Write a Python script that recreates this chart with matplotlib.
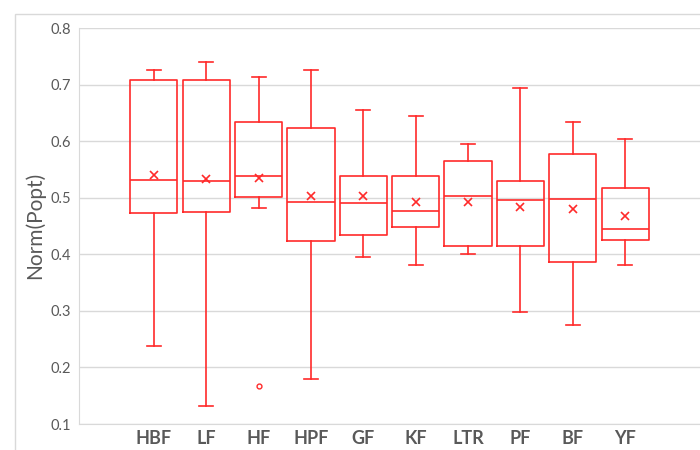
import matplotlib
matplotlib.use("Agg")
import matplotlib.pyplot as plt
from matplotlib.patches import Rectangle

categories = ["HBF", "LF", "HF", "HPF", "GF", "KF", "LTR", "PF", "BF", "YF"]
whisker_low = [0.238, 0.131, 0.482, 0.179, 0.395, 0.381, 0.400, 0.299, 0.275, 0.381]
q1 = [0.474, 0.475, 0.501, 0.424, 0.434, 0.449, 0.415, 0.415, 0.387, 0.425]
median = [0.531, 0.529, 0.539, 0.493, 0.491, 0.477, 0.504, 0.496, 0.498, 0.445]
q3 = [0.708, 0.709, 0.635, 0.624, 0.539, 0.539, 0.565, 0.529, 0.577, 0.517]
whisker_high = [0.727, 0.740, 0.713, 0.726, 0.656, 0.644, 0.596, 0.694, 0.634, 0.604]
means = [0.540, 0.534, 0.536, 0.504, 0.503, 0.493, 0.493, 0.483, 0.481, 0.468]
outliers = [[], [], [0.168], [], [], [], [], [], [], []]
yticks = [0.1, 0.2, 0.3, 0.4, 0.5, 0.6, 0.7, 0.8]

plt.rcParams['font.family'] = ['Lato', 'DejaVu Sans']
red = '#FF2A2A'
gray_text = '#595959'

fig = plt.figure(figsize=(7, 4.5), dpi=100)
fig.patches.append(Rectangle((15/700, -0.1), 1.2, 1 - 13.5/450 + 0.1, transform=fig.transFigure,
                             fill=False, edgecolor='#D9D9D9', linewidth=1.0))
ax = fig.add_axes([79/700, 1 - 424/450, 1 - 79/700, (424 - 28.3)/450])

stats = []
for i, c in enumerate(categories):
    stats.append(dict(label=c, whislo=whisker_low[i], q1=q1[i], med=median[i], q3=q3[i],
                      whishi=whisker_high[i], mean=means[i], fliers=outliers[i]))

ax.bxp(stats, positions=range(len(categories)), widths=0.9, showmeans=True, patch_artist=False,
       boxprops=dict(color=red, linewidth=1.2),
       medianprops=dict(color=red, linewidth=1.2),
       whiskerprops=dict(color=red, linewidth=1.2),
       capprops=dict(color=red, linewidth=1.2),
       capwidths=0.27,
       meanprops=dict(marker='x', markeredgecolor=red, markerfacecolor=red, markersize=6, markeredgewidth=1.2),
       flierprops=dict(marker='o', markeredgecolor=red, markerfacecolor='none', markersize=3.5, markeredgewidth=1.0))

ax.set_xlim(-1.43, 10.43)
ax.set_ylim(0.1, 0.8)
ax.set_yticks(yticks)
ax.set_yticklabels([f"{v:.1f}" for v in yticks], fontsize=10.5, color=gray_text)
ax.set_xticks(range(len(categories)))
ax.set_xticklabels(categories, fontsize=13, fontweight='bold', color=gray_text)
ax.tick_params(axis='both', length=0)
ax.tick_params(axis='x', pad=4)
ax.tick_params(axis='y', pad=6)
ax.grid(axis='y', color='#D9D9D9', linewidth=1.0)
ax.set_axisbelow(True)
for s in ['top', 'right']:
    ax.spines[s].set_visible(False)
ax.spines['left'].set_color('#D9D9D9')
ax.spines['bottom'].set_color('#D9D9D9')
fig.text(35/700, 1 - 225.5/450, "Norm(Popt)", rotation=90, ha='center', va='center',
         fontsize=15, color=gray_text)

fig.savefig("out.png", dpi=100)
